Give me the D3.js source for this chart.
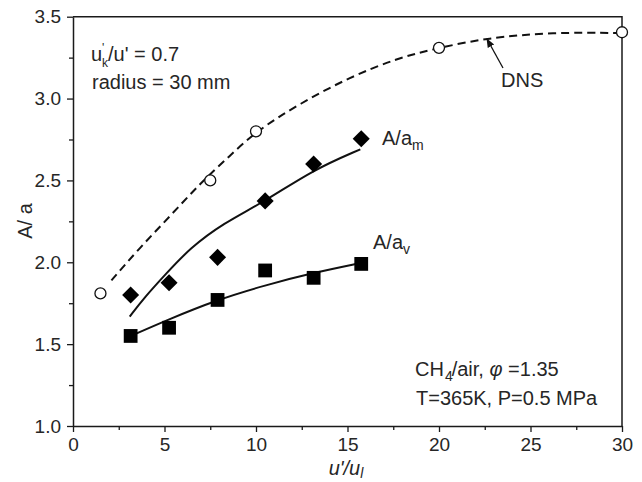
<!DOCTYPE html>
<html>
<head>
<meta charset="utf-8">
<script src="https://cdn.jsdelivr.net/npm/d3@7"></script>
<style>
  html, body { margin: 0; padding: 0; background: #fff; }
  svg { display: block; font-family: "Liberation Sans", Arial, sans-serif; }
  text { fill: #262626; }
</style>
</head>
<body>
<svg id="chart" width="642" height="482"></svg>
<script>
// DNS reference points (open circles) and the dashed DNS trend
const dnsX = [1.5, 7.5, 10, 20, 30];
const dnsY = [1.81, 2.5, 2.8, 3.31, 3.405];
const dnsCurveX = [2.1, 3.66, 5.29, 6.93, 8.57, 10, 12.4, 15.1, 17.8, 20, 22.6, 26.2, 30];
const dnsCurveY = [1.89, 2.09, 2.28, 2.48, 2.65, 2.80, 2.97, 3.13, 3.25, 3.31, 3.37, 3.405, 3.40];

// A/a_m measurements (diamonds) and fitted trend
const mX = [3.15, 5.25, 7.9, 10.5, 13.15, 15.75];
const mY = [1.80, 1.875, 2.03, 2.375, 2.60, 2.755];
const mCurveX = [3.1, 3.9, 5.11, 6.38, 8.2, 10.47, 13.1, 15.7];
const mCurveY = [1.668, 1.785, 1.933, 2.085, 2.238, 2.37, 2.564, 2.69];

// A/a_v measurements (squares) and fitted trend
const vX = [3.15, 5.25, 7.9, 10.5, 13.15, 15.75];
const vY = [1.55, 1.60, 1.77, 1.95, 1.905, 1.99];
const vCurveX = [3.1, 5.2, 7.85, 10.5, 13.1, 15.7];
const vCurveY = [1.547, 1.65, 1.77, 1.86, 1.935, 1.995];

// Axis ticks
const xTicks = [0, 5, 10, 15, 20, 25, 30];
const xMinor = [2.5, 7.5, 12.5, 17.5, 22.5, 27.5];
const yTicks = [1.0, 1.5, 2.0, 2.5, 3.0, 3.5];
const yMinor = [1.25, 1.75, 2.25, 2.75, 3.25];

const svg = d3.select("#chart");
const x = d3.scaleLinear().domain([0, 30]).range([73, 622]);
const y = d3.scaleLinear().domain([1.0, 3.5]).range([426, 16.7]);
const FS = 20;   // annotation font size
const TS = 19;   // tick label font size

// Frame (top and right edges)
svg.append("path")
  .attr("d", `M${x(0)},${y(3.5)}H${x(30)}V${y(1.0)}`)
  .attr("fill", "none").attr("stroke", "#1a1a1a").attr("stroke-width", 1.5);

// Bottom axis
svg.append("g").attr("transform", `translate(0,${y(1.0)})`)
  .call(d3.axisBottom(x).tickValues(xTicks).tickFormat(d3.format("d")).tickSize(6).tickPadding(6).tickSizeOuter(0));
svg.append("g").attr("transform", `translate(0,${y(1.0)})`)
  .call(d3.axisBottom(x).tickValues(xMinor).tickFormat("").tickSize(4).tickSizeOuter(0))
  .call(g => g.select(".domain").remove());

// Left axis
svg.append("g").attr("transform", `translate(${x(0)},0)`)
  .call(d3.axisLeft(y).tickValues(yTicks).tickFormat(d3.format(".1f")).tickSize(6).tickPadding(6).tickSizeOuter(0));
svg.append("g").attr("transform", `translate(${x(0)},0)`)
  .call(d3.axisLeft(y).tickValues(yMinor).tickFormat("").tickSize(4).tickSizeOuter(0))
  .call(g => g.select(".domain").remove());

svg.selectAll(".domain").attr("stroke", "#1a1a1a").attr("stroke-width", 1.5);
svg.selectAll(".tick line").attr("stroke", "#1a1a1a").attr("stroke-width", 1.3);
svg.selectAll(".tick text").attr("font-size", TS).attr("fill", "#262626")
  .attr("font-family", "Liberation Sans, Arial, sans-serif");

// Axis titles
const xt = svg.append("text").attr("x", 346).attr("y", 475).attr("text-anchor", "middle")
  .attr("font-size", FS).attr("font-style", "italic");
xt.append("tspan").text("u'/u");
xt.append("tspan").attr("dy", 3).attr("font-size", 14).text("l");

svg.append("text").attr("transform", "translate(32,221) rotate(-90)")
  .attr("text-anchor", "middle").attr("font-size", FS).text("A/ a");

// Trend curves
const line = d3.line().x(d => x(d[0])).y(d => y(d[1])).curve(d3.curveBasis);
const zip = (a, b) => a.map((v, i) => [v, b[i]]);

svg.append("path").datum(zip(dnsCurveX, dnsCurveY)).attr("d", line)
  .attr("fill", "none").attr("stroke", "#111").attr("stroke-width", 2).attr("stroke-dasharray", "8,5");
svg.append("path").datum(zip(mCurveX, mCurveY)).attr("d", line)
  .attr("fill", "none").attr("stroke", "#111").attr("stroke-width", 2);
svg.append("path").datum(zip(vCurveX, vCurveY)).attr("d", line)
  .attr("fill", "none").attr("stroke", "#111").attr("stroke-width", 2);

// Markers
svg.append("g").selectAll("circle").data(zip(dnsX, dnsY)).join("circle")
  .attr("cx", d => x(d[0])).attr("cy", d => y(d[1])).attr("r", 5.5)
  .attr("fill", "#fff").attr("stroke", "#111").attr("stroke-width", 1.3);

const diamond = d3.symbol().type(d3.symbolSquare).size(145);
svg.append("g").selectAll("path").data(zip(mX, mY)).join("path")
  .attr("d", diamond)
  .attr("transform", d => `translate(${x(d[0])},${y(d[1])}) rotate(45)`)
  .attr("fill", "#000");

const square = d3.symbol().type(d3.symbolSquare).size(190);
svg.append("g").selectAll("path").data(zip(vX, vY)).join("path")
  .attr("d", square)
  .attr("transform", d => `translate(${x(d[0])},${y(d[1])})`)
  .attr("fill", "#000");

// Series labels
const lm = svg.append("text").attr("x", 382).attr("y", 145).attr("font-size", FS);
lm.append("tspan").text("A/a");
lm.append("tspan").attr("dy", 5).attr("font-size", 14).text("m");

const lv = svg.append("text").attr("x", 373).attr("y", 249).attr("font-size", FS);
lv.append("tspan").text("A/a");
lv.append("tspan").attr("dy", 5).attr("font-size", 14).text("v");

// DNS arrow and label
svg.append("defs").append("marker").attr("id", "arrow")
  .attr("viewBox", "0 0 10 10").attr("refX", 9).attr("refY", 5)
  .attr("markerWidth", 7).attr("markerHeight", 7).attr("orient", "auto")
  .append("path").attr("d", "M0,1L10,5L0,9Z").attr("fill", "#111");
svg.append("line").attr("x1", 503).attr("y1", 68).attr("x2", 487).attr("y2", 39)
  .attr("stroke", "#111").attr("stroke-width", 1.3).attr("marker-end", "url(#arrow)");
svg.append("text").attr("x", 501).attr("y", 87).attr("font-size", FS).text("DNS");

// Condition annotations (upper left): u'_k/u' = 0.7
svg.append("text").attr("x", 91).attr("y", 61).attr("font-size", FS).text("u");
svg.append("text").attr("x", 102).attr("y", 52).attr("font-size", 12).text("'");
svg.append("text").attr("x", 102).attr("y", 67).attr("font-size", 12).text("k");
svg.append("text").attr("x", 108).attr("y", 61).attr("font-size", FS).text("/u' = 0.7");
svg.append("text").attr("x", 92).attr("y", 89).attr("font-size", FS).text("radius = 30 mm");

// Condition annotations (lower right)
const t2 = svg.append("text").attr("x", 415).attr("y", 376).attr("font-size", FS);
t2.append("tspan").text("CH");
t2.append("tspan").attr("dx", 1).attr("dy", 5).attr("font-size", 14).text("4");
t2.append("tspan").attr("dx", -1).attr("dy", -5).text("/air, ");
t2.append("tspan").attr("font-style", "italic").text("\u03c6");
t2.append("tspan").text(" =1.35");
svg.append("text").attr("x", 416).attr("y", 405).attr("font-size", FS).text("T=365K, P=0.5 MPa");
</script>
</body>
</html>
